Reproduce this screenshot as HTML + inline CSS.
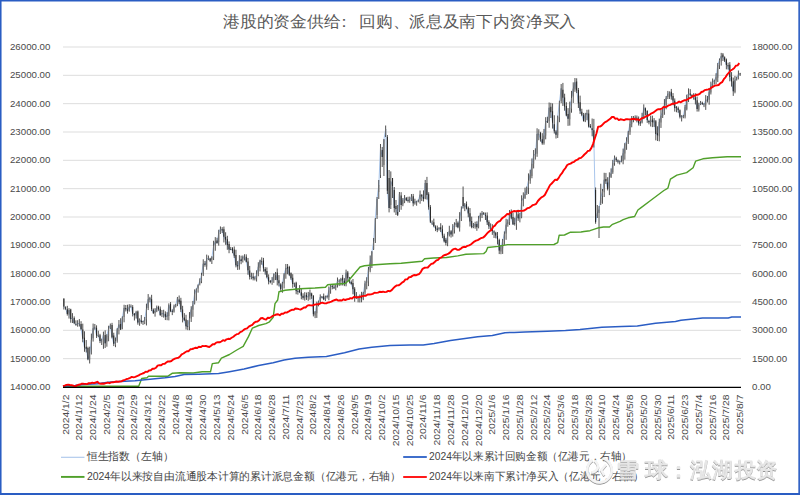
<!DOCTYPE html><html><head><meta charset="utf-8"><style>html,body{margin:0;padding:0;background:#fff;}body{width:800px;height:495px;overflow:hidden;position:relative;font-family:"Liberation Sans",sans-serif;}svg{position:absolute;left:0;top:0;}</style></head><body>
<svg width="800" height="495" viewBox="0 0 800 495" font-family="Liberation Sans, sans-serif">
<rect x="0" y="0" width="800" height="495" fill="#ffffff"/>
<line x1="63.0" y1="47.00" x2="741.0" y2="47.00" stroke="#d9d9d9" stroke-width="0.9"/>
<line x1="63.0" y1="75.33" x2="741.0" y2="75.33" stroke="#d9d9d9" stroke-width="0.9"/>
<line x1="63.0" y1="103.67" x2="741.0" y2="103.67" stroke="#d9d9d9" stroke-width="0.9"/>
<line x1="63.0" y1="132.00" x2="741.0" y2="132.00" stroke="#d9d9d9" stroke-width="0.9"/>
<line x1="63.0" y1="160.33" x2="741.0" y2="160.33" stroke="#d9d9d9" stroke-width="0.9"/>
<line x1="63.0" y1="188.67" x2="741.0" y2="188.67" stroke="#d9d9d9" stroke-width="0.9"/>
<line x1="63.0" y1="217.00" x2="741.0" y2="217.00" stroke="#d9d9d9" stroke-width="0.9"/>
<line x1="63.0" y1="245.33" x2="741.0" y2="245.33" stroke="#d9d9d9" stroke-width="0.9"/>
<line x1="63.0" y1="273.67" x2="741.0" y2="273.67" stroke="#d9d9d9" stroke-width="0.9"/>
<line x1="63.0" y1="302.00" x2="741.0" y2="302.00" stroke="#d9d9d9" stroke-width="0.9"/>
<line x1="63.0" y1="330.33" x2="741.0" y2="330.33" stroke="#d9d9d9" stroke-width="0.9"/>
<line x1="63.0" y1="358.67" x2="741.0" y2="358.67" stroke="#d9d9d9" stroke-width="0.9"/>
<text transform="translate(50.4,390.05) scale(0.97,0.95)" font-size="10" fill="#4a4a4a" text-anchor="end">14000.00</text>
<text transform="translate(752,390.05) scale(0.97,0.95)" font-size="10" fill="#4a4a4a">0.00</text>
<text transform="translate(50.4,361.72) scale(0.97,0.95)" font-size="10" fill="#4a4a4a" text-anchor="end">15000.00</text>
<text transform="translate(752,361.72) scale(0.97,0.95)" font-size="10" fill="#4a4a4a">1500.00</text>
<text transform="translate(50.4,333.38) scale(0.97,0.95)" font-size="10" fill="#4a4a4a" text-anchor="end">16000.00</text>
<text transform="translate(752,333.38) scale(0.97,0.95)" font-size="10" fill="#4a4a4a">3000.00</text>
<text transform="translate(50.4,305.05) scale(0.97,0.95)" font-size="10" fill="#4a4a4a" text-anchor="end">17000.00</text>
<text transform="translate(752,305.05) scale(0.97,0.95)" font-size="10" fill="#4a4a4a">4500.00</text>
<text transform="translate(50.4,276.72) scale(0.97,0.95)" font-size="10" fill="#4a4a4a" text-anchor="end">18000.00</text>
<text transform="translate(752,276.72) scale(0.97,0.95)" font-size="10" fill="#4a4a4a">6000.00</text>
<text transform="translate(50.4,248.38) scale(0.97,0.95)" font-size="10" fill="#4a4a4a" text-anchor="end">19000.00</text>
<text transform="translate(752,248.38) scale(0.97,0.95)" font-size="10" fill="#4a4a4a">7500.00</text>
<text transform="translate(50.4,220.05) scale(0.97,0.95)" font-size="10" fill="#4a4a4a" text-anchor="end">20000.00</text>
<text transform="translate(752,220.05) scale(0.97,0.95)" font-size="10" fill="#4a4a4a">9000.00</text>
<text transform="translate(50.4,191.72) scale(0.97,0.95)" font-size="10" fill="#4a4a4a" text-anchor="end">21000.00</text>
<text transform="translate(752,191.72) scale(0.97,0.95)" font-size="10" fill="#4a4a4a">10500.00</text>
<text transform="translate(50.4,163.38) scale(0.97,0.95)" font-size="10" fill="#4a4a4a" text-anchor="end">22000.00</text>
<text transform="translate(752,163.38) scale(0.97,0.95)" font-size="10" fill="#4a4a4a">12000.00</text>
<text transform="translate(50.4,135.05) scale(0.97,0.95)" font-size="10" fill="#4a4a4a" text-anchor="end">23000.00</text>
<text transform="translate(752,135.05) scale(0.97,0.95)" font-size="10" fill="#4a4a4a">13500.00</text>
<text transform="translate(50.4,106.72) scale(0.97,0.95)" font-size="10" fill="#4a4a4a" text-anchor="end">24000.00</text>
<text transform="translate(752,106.72) scale(0.97,0.95)" font-size="10" fill="#4a4a4a">15000.00</text>
<text transform="translate(50.4,78.38) scale(0.97,0.95)" font-size="10" fill="#4a4a4a" text-anchor="end">25000.00</text>
<text transform="translate(752,78.38) scale(0.97,0.95)" font-size="10" fill="#4a4a4a">16500.00</text>
<text transform="translate(50.4,50.05) scale(0.97,0.95)" font-size="10" fill="#4a4a4a" text-anchor="end">26000.00</text>
<text transform="translate(752,50.05) scale(0.97,0.95)" font-size="10" fill="#4a4a4a">18000.00</text>
<text transform="translate(68.56,394.6) rotate(-90) scale(0.975,0.86)" font-size="10.6" fill="#4a4a4a" text-anchor="end">2024/1/2</text>
<text transform="translate(82.33,394.6) rotate(-90) scale(0.975,0.86)" font-size="10.6" fill="#4a4a4a" text-anchor="end">2024/1/12</text>
<text transform="translate(96.09,394.6) rotate(-90) scale(0.975,0.86)" font-size="10.6" fill="#4a4a4a" text-anchor="end">2024/1/24</text>
<text transform="translate(109.86,394.6) rotate(-90) scale(0.975,0.86)" font-size="10.6" fill="#4a4a4a" text-anchor="end">2024/2/5</text>
<text transform="translate(123.63,394.6) rotate(-90) scale(0.975,0.86)" font-size="10.6" fill="#4a4a4a" text-anchor="end">2024/2/19</text>
<text transform="translate(137.39,394.6) rotate(-90) scale(0.975,0.86)" font-size="10.6" fill="#4a4a4a" text-anchor="end">2024/2/29</text>
<text transform="translate(151.16,394.6) rotate(-90) scale(0.975,0.86)" font-size="10.6" fill="#4a4a4a" text-anchor="end">2024/3/12</text>
<text transform="translate(164.93,394.6) rotate(-90) scale(0.975,0.86)" font-size="10.6" fill="#4a4a4a" text-anchor="end">2024/3/22</text>
<text transform="translate(178.69,394.6) rotate(-90) scale(0.975,0.86)" font-size="10.6" fill="#4a4a4a" text-anchor="end">2024/4/8</text>
<text transform="translate(192.46,394.6) rotate(-90) scale(0.975,0.86)" font-size="10.6" fill="#4a4a4a" text-anchor="end">2024/4/18</text>
<text transform="translate(206.23,394.6) rotate(-90) scale(0.975,0.86)" font-size="10.6" fill="#4a4a4a" text-anchor="end">2024/4/30</text>
<text transform="translate(219.99,394.6) rotate(-90) scale(0.975,0.86)" font-size="10.6" fill="#4a4a4a" text-anchor="end">2024/5/13</text>
<text transform="translate(233.76,394.6) rotate(-90) scale(0.975,0.86)" font-size="10.6" fill="#4a4a4a" text-anchor="end">2024/5/24</text>
<text transform="translate(247.52,394.6) rotate(-90) scale(0.975,0.86)" font-size="10.6" fill="#4a4a4a" text-anchor="end">2024/6/5</text>
<text transform="translate(261.29,394.6) rotate(-90) scale(0.975,0.86)" font-size="10.6" fill="#4a4a4a" text-anchor="end">2024/6/18</text>
<text transform="translate(275.06,394.6) rotate(-90) scale(0.975,0.86)" font-size="10.6" fill="#4a4a4a" text-anchor="end">2024/6/28</text>
<text transform="translate(288.82,394.6) rotate(-90) scale(0.975,0.86)" font-size="10.6" fill="#4a4a4a" text-anchor="end">2024/7/11</text>
<text transform="translate(302.59,394.6) rotate(-90) scale(0.975,0.86)" font-size="10.6" fill="#4a4a4a" text-anchor="end">2024/7/23</text>
<text transform="translate(316.36,394.6) rotate(-90) scale(0.975,0.86)" font-size="10.6" fill="#4a4a4a" text-anchor="end">2024/8/2</text>
<text transform="translate(330.12,394.6) rotate(-90) scale(0.975,0.86)" font-size="10.6" fill="#4a4a4a" text-anchor="end">2024/8/14</text>
<text transform="translate(343.89,394.6) rotate(-90) scale(0.975,0.86)" font-size="10.6" fill="#4a4a4a" text-anchor="end">2024/8/26</text>
<text transform="translate(357.66,394.6) rotate(-90) scale(0.975,0.86)" font-size="10.6" fill="#4a4a4a" text-anchor="end">2024/9/5</text>
<text transform="translate(371.42,394.6) rotate(-90) scale(0.975,0.86)" font-size="10.6" fill="#4a4a4a" text-anchor="end">2024/9/19</text>
<text transform="translate(385.19,394.6) rotate(-90) scale(0.975,0.86)" font-size="10.6" fill="#4a4a4a" text-anchor="end">2024/10/2</text>
<text transform="translate(398.96,394.6) rotate(-90) scale(0.975,0.86)" font-size="10.6" fill="#4a4a4a" text-anchor="end">2024/10/15</text>
<text transform="translate(412.72,394.6) rotate(-90) scale(0.975,0.86)" font-size="10.6" fill="#4a4a4a" text-anchor="end">2024/10/25</text>
<text transform="translate(426.49,394.6) rotate(-90) scale(0.975,0.86)" font-size="10.6" fill="#4a4a4a" text-anchor="end">2024/11/6</text>
<text transform="translate(440.26,394.6) rotate(-90) scale(0.975,0.86)" font-size="10.6" fill="#4a4a4a" text-anchor="end">2024/11/18</text>
<text transform="translate(454.02,394.6) rotate(-90) scale(0.975,0.86)" font-size="10.6" fill="#4a4a4a" text-anchor="end">2024/11/28</text>
<text transform="translate(467.79,394.6) rotate(-90) scale(0.975,0.86)" font-size="10.6" fill="#4a4a4a" text-anchor="end">2024/12/10</text>
<text transform="translate(481.56,394.6) rotate(-90) scale(0.975,0.86)" font-size="10.6" fill="#4a4a4a" text-anchor="end">2024/12/20</text>
<text transform="translate(495.32,394.6) rotate(-90) scale(0.975,0.86)" font-size="10.6" fill="#4a4a4a" text-anchor="end">2025/1/6</text>
<text transform="translate(509.09,394.6) rotate(-90) scale(0.975,0.86)" font-size="10.6" fill="#4a4a4a" text-anchor="end">2025/1/16</text>
<text transform="translate(522.85,394.6) rotate(-90) scale(0.975,0.86)" font-size="10.6" fill="#4a4a4a" text-anchor="end">2025/1/28</text>
<text transform="translate(536.62,394.6) rotate(-90) scale(0.975,0.86)" font-size="10.6" fill="#4a4a4a" text-anchor="end">2025/2/12</text>
<text transform="translate(550.39,394.6) rotate(-90) scale(0.975,0.86)" font-size="10.6" fill="#4a4a4a" text-anchor="end">2025/2/24</text>
<text transform="translate(564.15,394.6) rotate(-90) scale(0.975,0.86)" font-size="10.6" fill="#4a4a4a" text-anchor="end">2025/3/6</text>
<text transform="translate(577.92,394.6) rotate(-90) scale(0.975,0.86)" font-size="10.6" fill="#4a4a4a" text-anchor="end">2025/3/18</text>
<text transform="translate(591.69,394.6) rotate(-90) scale(0.975,0.86)" font-size="10.6" fill="#4a4a4a" text-anchor="end">2025/3/28</text>
<text transform="translate(605.45,394.6) rotate(-90) scale(0.975,0.86)" font-size="10.6" fill="#4a4a4a" text-anchor="end">2025/4/10</text>
<text transform="translate(619.22,394.6) rotate(-90) scale(0.975,0.86)" font-size="10.6" fill="#4a4a4a" text-anchor="end">2025/4/24</text>
<text transform="translate(632.99,394.6) rotate(-90) scale(0.975,0.86)" font-size="10.6" fill="#4a4a4a" text-anchor="end">2025/5/8</text>
<text transform="translate(646.75,394.6) rotate(-90) scale(0.975,0.86)" font-size="10.6" fill="#4a4a4a" text-anchor="end">2025/5/20</text>
<text transform="translate(660.52,394.6) rotate(-90) scale(0.975,0.86)" font-size="10.6" fill="#4a4a4a" text-anchor="end">2025/5/30</text>
<text transform="translate(674.29,394.6) rotate(-90) scale(0.975,0.86)" font-size="10.6" fill="#4a4a4a" text-anchor="end">2025/6/11</text>
<text transform="translate(688.05,394.6) rotate(-90) scale(0.975,0.86)" font-size="10.6" fill="#4a4a4a" text-anchor="end">2025/6/23</text>
<text transform="translate(701.82,394.6) rotate(-90) scale(0.975,0.86)" font-size="10.6" fill="#4a4a4a" text-anchor="end">2025/7/4</text>
<text transform="translate(715.59,394.6) rotate(-90) scale(0.975,0.86)" font-size="10.6" fill="#4a4a4a" text-anchor="end">2025/7/16</text>
<text transform="translate(729.35,394.6) rotate(-90) scale(0.975,0.86)" font-size="10.6" fill="#4a4a4a" text-anchor="end">2025/7/28</text>
<text transform="translate(743.12,394.6) rotate(-90) scale(0.975,0.86)" font-size="10.6" fill="#4a4a4a" text-anchor="end">2025/8/7</text>
<polyline points="63.9,306.4 65.6,308.6 67.3,313.9 69.0,310.1 70.7,319.1 72.5,317.8 74.2,323.1 75.9,324.6 77.6,323.8 79.3,323.2 81.1,328.9 82.8,338.8 84.5,347.5 86.2,348.6 88.0,359.4 89.7,353.6 91.4,339.9 93.1,328.2 94.8,327.6 96.6,335.4 98.3,335.3 100.0,341.0 101.7,340.6 103.4,334.7 105.2,343.4 106.9,335.6 108.6,328.4 110.3,325.5 112.0,337.3 113.8,343.7 115.5,340.9 117.2,329.6 118.9,324.6 120.6,329.4 122.4,317.3 124.1,307.9 125.8,309.2 127.5,310.7 129.3,306.7 131.0,306.7 132.7,313.9 134.4,315.2 136.1,312.3 137.9,322.6 139.6,319.5 141.3,321.9 143.0,321.4 144.7,319.5 146.5,308.4 148.2,299.1 149.9,298.1 151.6,308.9 153.3,313.0 155.1,311.0 156.8,307.2 158.5,308.9 160.2,314.9 161.9,313.5 163.7,313.7 165.4,316.8 167.1,316.2 168.8,305.2 170.6,310.9 172.3,311.5 174.0,306.5 175.7,304.7 177.4,298.3 179.2,302.3 180.9,309.5 182.6,317.5 184.3,319.9 186.0,326.3 187.8,326.3 189.5,318.1 191.2,309.5 192.9,305.1 194.6,293.8 196.4,289.3 198.1,285.2 199.8,281.3 201.5,274.9 203.2,263.7 205.0,264.9 206.7,259.0 208.4,258.1 210.1,260.6 211.9,257.3 213.6,245.6 215.3,241.5 217.0,243.1 218.7,232.9 220.5,228.6 222.2,230.5 223.9,236.7 225.6,239.6 227.3,245.0 229.1,249.5 230.8,249.1 232.5,250.7 234.2,255.7 235.9,265.4 237.7,266.2 239.4,260.0 241.1,261.0 242.8,257.0 244.5,257.0 246.3,261.8 248.0,270.2 249.7,276.6 251.4,276.2 253.1,278.2 254.9,278.3 256.6,273.9 258.3,266.8 260.0,260.6 261.8,262.0 263.5,268.4 265.2,271.4 266.9,276.9 268.6,281.3 270.4,281.9 272.1,280.7 273.8,274.3 275.5,274.1 277.2,280.1 279.0,283.3 280.7,289.0 282.4,283.3 284.1,274.3 285.8,268.3 287.6,268.4 289.3,274.8 291.0,278.3 292.7,284.0 294.4,283.6 296.2,291.1 297.9,291.4 299.6,292.1 301.3,295.8 303.1,297.8 304.8,295.5 306.5,296.8 308.2,296.6 309.9,292.8 311.7,296.0 313.4,314.3 315.1,312.2 316.8,304.4 318.5,301.6 320.3,296.9 322.0,296.9 323.7,299.3 325.4,297.0 327.1,296.9 328.9,290.5 330.6,286.3 332.3,286.5 334.0,288.2 335.7,285.2 337.5,280.9 339.2,281.3 340.9,279.2 342.6,280.3 344.4,284.2 346.1,272.7 347.8,278.3 349.5,280.6 351.2,284.0 353.0,289.1 354.7,297.1 356.4,298.1 358.1,297.6 359.8,296.8 361.6,298.1 363.3,292.9 365.0,283.5 366.7,281.3 368.4,269.5 370.2,262.5 371.9,252.0 373.6,241.7 375.3,219.0 377.0,199.0 378.8,185.0 380.5,148.0 382.2,157.0 383.9,139.5 385.7,129.0 387.4,190.7 389.1,208.0 390.8,181.5 392.5,186.0 394.3,208.0 396.0,209.0 397.7,214.7 399.4,194.0 401.1,205.0 402.9,200.0 404.6,197.6 406.3,200.4 408.0,200.2 409.7,200.1 411.5,196.5 413.2,203.4 414.9,201.8 416.6,201.6 418.3,200.5 420.1,194.7 421.8,196.4 423.5,199.0 425.2,183.0 427.0,195.1 428.7,207.3 430.4,221.8 432.1,223.2 433.8,225.9 435.6,228.7 437.3,229.7 439.0,228.2 440.7,229.2 442.4,235.4 444.2,241.3 445.9,243.0 447.6,235.7 449.3,231.1 451.0,234.4 452.8,228.1 454.5,224.6 456.2,223.3 457.9,227.2 459.6,218.7 461.4,209.5 463.1,206.0 464.8,204.6 466.5,208.4 468.3,213.4 470.0,221.4 471.7,227.1 473.4,225.9 475.1,224.1 476.9,227.1 478.6,218.4 480.3,214.7 482.0,213.5 483.7,214.1 485.5,215.7 487.2,222.3 488.9,226.3 490.6,227.5 492.3,231.0 494.1,232.5 495.8,235.6 497.5,239.2 499.2,250.4 500.9,247.1 502.7,240.4 504.4,234.0 506.1,224.8 507.8,221.7 509.6,213.1 511.3,217.8 513.0,224.3 514.7,223.4 516.4,215.2 518.2,218.3 519.9,217.6 521.6,200.8 523.3,198.1 525.0,194.0 526.8,187.9 528.5,180.6 530.2,174.5 531.9,163.8 533.6,155.3 535.4,154.3 537.1,133.9 538.8,134.1 540.5,139.0 542.2,143.2 544.0,135.5 545.7,121.1 547.4,122.2 549.1,107.8 550.9,112.3 552.6,122.7 554.3,131.2 556.0,134.7 557.7,117.1 559.5,101.4 561.2,88.4 562.9,97.8 564.6,106.5 566.3,115.4 568.1,118.8 569.8,107.5 571.5,97.9 573.2,88.7 574.9,82.3 576.7,90.5 578.4,103.5 580.1,110.7 581.8,114.6 583.5,121.0 585.3,114.0 587.0,113.2 588.7,126.5 590.4,127.2 592.1,129.9 593.9,140.8 595.6,222.0 597.3,213.4 599.0,209.5 600.8,197.7 602.5,191.0 604.2,179.7 605.9,181.2 607.6,189.0 609.4,177.2 611.1,173.3 612.8,163.1 614.5,157.4 616.2,160.0 618.0,161.6 619.7,161.6 621.4,161.2 623.1,153.2 624.8,144.1 626.6,140.9 628.3,131.8 630.0,123.7 631.7,118.2 633.4,118.6 635.2,118.2 636.9,118.3 638.6,123.2 640.3,123.2 642.1,117.2 643.8,107.7 645.5,111.3 647.2,119.9 648.9,122.3 650.7,120.3 652.4,122.2 654.1,120.6 655.8,134.1 657.5,135.4 659.3,122.0 661.0,115.6 662.7,111.6 664.4,104.7 666.1,98.0 667.9,93.9 669.6,92.1 671.3,96.4 673.0,100.6 674.7,108.0 676.5,107.4 678.2,110.0 679.9,116.8 681.6,117.0 683.4,115.7 685.1,107.1 686.8,95.6 688.5,93.5 690.2,94.7 692.0,96.4 693.7,96.9 695.4,100.1 697.1,108.9 698.8,104.9 700.6,102.8 702.3,104.0 704.0,104.7 705.7,99.9 707.4,100.3 709.2,92.0 710.9,86.2 712.6,82.2 714.3,80.4 716.0,77.2 717.8,64.9 719.5,59.7 721.2,56.0 722.9,57.2 724.7,60.6 726.4,65.0 728.1,66.2 729.8,77.0 731.5,81.6 733.3,91.3 735.0,80.3 736.7,78.3 738.4,74.2 740.1,74.3" fill="none" stroke="#a9c6ec" stroke-width="1"/>
<path d="M63.86 298.50V309.52M65.58 306.37V309.75M67.30 305.84V315.60M69.02 308.13V318.59M70.74 308.76V322.73M72.46 313.14V323.02M74.19 316.41V324.18M75.91 320.33V325.73M77.63 320.19V326.69M79.35 319.06V326.50M81.07 321.19V330.28M82.79 323.65V342.27M84.51 331.29V351.77M86.23 340.05V352.47M87.95 346.69V360.24M89.67 346.69V363.47M91.39 333.61V354.46M93.11 323.55V341.59M94.84 323.97V329.71M96.56 325.34V337.97M98.28 330.76V337.11M100.00 333.82V343.09M101.72 338.67V345.00M103.44 331.65V348.84M105.16 330.34V347.98M106.88 334.17V346.71M108.60 325.72V341.29M110.32 323.51V329.09M112.04 322.85V338.40M113.76 332.74V346.12M115.48 337.54V347.20M117.21 328.11V342.69M118.93 320.02V334.43M120.65 318.25V330.03M122.37 316.37V329.29M124.09 304.75V322.30M125.81 305.03V311.47M127.53 304.72V313.61M129.25 304.22V311.70M130.97 304.46V307.56M132.69 305.13V316.43M134.41 313.00V320.47M136.13 310.84V318.57M137.86 310.54V324.66M139.58 318.38V325.75M141.30 315.07V323.72M143.02 320.72V324.90M144.74 316.99V324.16M146.46 303.65V325.44M148.18 294.07V310.09M149.90 296.80V302.33M151.62 294.81V311.10M153.34 308.47V314.00M155.06 308.13V316.65M156.78 305.56V312.17M158.51 305.76V310.69M160.23 306.49V315.91M161.95 309.99V317.04M163.67 309.73V317.61M165.39 311.33V320.06M167.11 312.20V320.23M168.83 303.37V320.38M170.55 302.08V312.14M172.27 309.35V315.11M173.99 304.56V312.61M175.71 303.92V307.46M177.43 296.96V306.14M179.15 295.49V304.18M180.88 297.81V312.14M182.60 305.82V322.41M184.32 313.12V321.06M186.04 314.78V329.50M187.76 320.14V330.14M189.48 312.07V330.20M191.20 306.20V321.94M192.92 300.92V316.79M194.64 289.39V304.49M196.36 288.38V300.68M198.08 284.36V292.63M199.80 278.30V285.42M201.53 272.80V283.18M203.25 259.30V276.06M204.97 261.03V266.69M206.69 254.62V269.75M208.41 255.51V260.17M210.13 257.80V262.04M211.85 256.23V263.99M213.57 240.76V260.09M215.29 237.12V250.77M217.01 237.76V243.74M218.73 229.75V245.61M220.45 226.44V233.95M222.18 227.14V232.98M223.90 226.55V242.45M225.62 232.25V244.82M227.34 235.81V249.79M229.06 241.41V253.22M230.78 246.88V250.16M232.50 247.16V253.24M234.22 246.49V257.91M235.94 249.76V267.35M237.66 261.09V269.95M239.38 255.14V269.69M241.10 255.66V264.20M242.82 255.48V262.54M244.55 254.21V260.47M246.27 254.33V262.42M247.99 257.98V274.75M249.71 265.91V279.51M251.43 272.71V279.32M253.15 272.87V280.39M254.87 276.33V280.43M256.59 270.27V281.54M258.31 262.22V276.25M260.03 259.67V271.41M261.75 257.33V264.74M263.47 257.89V271.65M265.20 267.15V274.66M266.92 267.36V278.32M268.64 274.38V284.37M270.36 279.99V283.32M272.08 277.09V284.75M273.80 273.37V282.87M275.52 271.94V280.08M277.24 268.51V285.41M278.96 275.11V286.48M280.68 283.31V290.76M282.40 281.83V292.76M284.12 273.10V288.45M285.85 263.98V278.72M287.57 264.02V274.28M289.29 265.83V275.90M291.01 272.41V279.82M292.73 274.16V287.78M294.45 282.61V286.91M296.17 281.72V294.25M297.89 288.86V294.64M299.61 285.17V292.99M301.33 288.56V299.30M303.05 293.30V299.73M304.77 292.17V300.63M306.49 292.56V299.93M308.22 291.92V300.82M309.94 289.56V299.68M311.66 292.67V298.85M313.38 295.06V316.44M315.10 311.07V318.13M316.82 301.61V317.92M318.54 300.61V306.34M320.26 294.35V303.65M321.98 296.16V298.44M323.70 293.56V300.15M325.42 295.60V300.99M327.14 295.25V298.50M328.87 286.47V300.24M330.59 284.26V293.72M332.31 284.04V289.31M334.03 284.47V288.89M335.75 284.55V290.29M337.47 277.51V287.54M339.19 279.25V286.07M340.91 277.87V285.58M342.63 274.88V285.46M344.35 278.16V286.12M346.07 269.62V286.29M347.79 270.95V281.46M349.52 276.95V283.35M351.24 280.37V284.67M352.96 278.98V294.30M354.68 287.14V301.75M356.40 292.08V298.83M358.12 295.78V302.36M359.84 294.49V302.46M361.56 291.81V302.30M363.28 291.83V300.15M365.00 280.74V295.82M366.72 277.22V289.33M368.44 266.95V286.15M370.16 255.51V272.35M371.89 251.00V268.00M373.61 238.00V250.00M375.33 218.00V243.00M377.05 197.00V219.00M378.77 180.00V199.00M380.49 144.00V178.00M382.21 147.00V167.00M383.93 139.00V176.00M385.65 125.50V137.00M387.37 135.00V194.00M389.09 170.00V212.40M390.81 171.40V209.00M392.54 178.00V198.00M394.26 187.00V212.40M395.98 200.00V215.00M397.70 205.00V216.00M399.42 192.00V212.00M401.14 192.19V209.77M402.86 198.07V206.19M404.58 195.05V203.14M406.30 196.98V201.13M408.02 196.72V202.57M409.74 196.59V202.81M411.46 194.05V200.91M413.19 193.93V206.27M414.91 198.73V204.65M416.63 200.73V205.72M418.35 199.52V202.33M420.07 190.50V203.72M421.79 193.97V201.05M423.51 190.40V201.51M425.23 179.95V199.25M426.95 176.89V199.58M428.67 192.23V209.68M430.39 205.07V223.05M432.11 220.47V224.83M433.84 218.61V227.28M435.56 225.29V231.10M437.28 225.58V232.15M439.00 227.05V230.53M440.72 223.19V232.10M442.44 225.33V238.11M444.16 233.66V242.46M445.88 237.90V245.40M447.60 231.98V246.19M449.32 225.78V236.48M451.04 230.13V237.55M452.76 224.10V236.62M454.48 222.30V233.52M456.21 218.95V227.18M457.93 221.44V228.22M459.65 212.14V231.59M461.37 206.34V221.03M463.09 186.50V208.50M464.81 203.05V211.15M466.53 201.51V209.25M468.25 206.53V217.26M469.97 208.09V226.53M471.69 216.61V228.31M473.41 222.96V228.19M475.13 221.71V228.66M476.86 221.30V230.84M478.58 215.83V228.36M480.30 212.73V221.57M482.02 211.04V218.03M483.74 212.03V214.92M485.46 212.55V220.00M487.18 212.37V225.01M488.90 220.28V229.05M490.62 223.37V231.03M492.34 224.19V234.84M494.06 230.33V238.01M495.78 231.81V238.33M497.51 232.02V244.41M499.23 238.70V254.07M500.95 245.01V254.22M502.67 238.99V253.93M504.39 231.40V244.97M506.11 218.73V239.80M507.83 219.39V226.73M509.55 210.06V225.02M511.27 209.42V219.14M512.99 212.56V224.93M514.71 217.70V225.58M516.43 211.92V229.83M518.15 209.72V220.86M519.88 212.85V222.38M521.60 195.29V218.29M523.32 192.37V206.38M525.04 187.67V199.00M526.76 186.58V194.84M528.48 173.39V194.03M530.20 169.68V183.78M531.92 158.47V178.26M533.64 150.02V168.45M535.36 148.32V159.60M537.08 128.27V156.80M538.80 129.28V140.22M540.53 131.89V141.65M542.25 133.16V144.74M543.97 128.96V144.71M545.69 117.17V139.32M547.41 116.74V122.98M549.13 102.48V127.76M550.85 102.85V117.99M552.57 103.38V128.57M554.29 115.25V133.53M556.01 130.18V138.53M557.73 115.64V137.98M559.45 100.73V122.20M561.18 84.04V103.18M562.90 82.88V105.94M564.62 93.71V110.71M566.34 102.20V116.19M568.06 108.10V125.86M569.78 101.65V125.63M571.50 90.88V112.71M573.22 82.33V102.94M574.94 78.02V91.80M576.66 78.29V93.10M578.38 87.95V107.97M580.10 95.63V113.94M581.82 108.78V116.14M583.55 112.93V121.63M585.27 112.83V122.12M586.99 109.80V120.24M588.71 109.61V127.56M590.43 124.09V127.87M592.15 118.49V136.29M593.87 118.86V147.50M595.59 187.50V223.75M597.31 205.00V218.00M599.03 206.00V238.00M600.75 183.75V205.00M602.47 189.00V203.75M604.20 172.79V197.03M605.92 172.92V183.97M607.64 177.21V190.44M609.36 172.33V195.12M611.08 168.38V178.00M612.80 159.88V173.85M614.52 155.51V165.73M616.24 156.79V161.89M617.96 159.51V163.51M619.68 160.50V164.46M621.40 155.62V162.35M623.12 148.58V164.25M624.85 142.88V159.69M626.57 137.29V149.83M628.29 130.83V143.92M630.01 118.81V134.86M631.73 116.00V127.27M633.45 115.99V122.31M635.17 115.37V120.36M636.89 115.51V122.39M638.61 116.48V125.53M640.33 120.97V125.95M642.05 112.80V123.41M643.77 104.37V119.17M645.49 107.55V115.21M647.22 110.25V122.84M648.94 119.77V124.35M650.66 115.63V126.47M652.38 115.68V127.10M654.10 118.05V126.93M655.82 120.06V140.39M657.54 126.29V141.02M659.26 118.61V141.32M660.98 109.96V127.93M662.70 108.16V117.97M664.42 99.06V114.78M666.14 96.07V109.27M667.87 90.95V99.09M669.59 91.36V98.96M671.31 88.92V99.70M673.03 93.08V105.22M674.75 98.45V111.65M676.47 106.02V112.26M678.19 106.58V112.77M679.91 109.43V118.43M681.63 115.13V121.46M683.35 114.92V118.26M685.07 104.87V118.40M686.79 94.64V110.38M688.52 88.36V102.08M690.24 89.12V96.52M691.96 94.13V97.72M693.68 93.23V99.64M695.40 93.31V104.44M697.12 96.56V111.58M698.84 102.70V111.55M700.56 100.94V105.10M702.28 101.65V104.96M704.00 103.03V107.11M705.72 95.14V109.90M707.44 95.98V102.55M709.16 88.09V104.73M710.89 81.67V94.47M712.61 78.48V88.11M714.33 79.77V84.62M716.05 73.22V84.06M717.77 62.93V82.02M719.49 58.48V69.03M721.21 52.88V65.60M722.93 53.06V61.00M724.65 56.39V62.00M726.37 58.51V69.34M728.09 62.66V69.52M729.81 62.09V81.30M731.54 72.11V86.58M733.26 77.60V95.89M734.98 75.91V93.30M736.70 76.63V80.55M738.42 70.51V79.38M740.14 72.85V75.87" stroke="#333333" stroke-width="0.85" fill="none"/>
<path d="M68.52 310.12h1.0v4.44h-1.0zM71.96 317.84h1.0v1.65h-1.0zM77.13 323.83h1.0v0.60h-1.0zM78.85 323.19h1.0v0.71h-1.0zM89.17 353.64h1.0v5.80h-1.0zM90.89 339.86h1.0v13.99h-1.0zM92.61 328.16h1.0v10.05h-1.0zM94.34 327.56h1.0v0.92h-1.0zM97.78 335.30h1.0v0.60h-1.0zM101.22 340.63h1.0v0.97h-1.0zM102.94 334.68h1.0v7.73h-1.0zM106.38 335.59h1.0v5.87h-1.0zM108.10 328.38h1.0v7.55h-1.0zM109.82 325.47h1.0v2.85h-1.0zM114.98 340.95h1.0v3.96h-1.0zM116.71 329.58h1.0v11.22h-1.0zM118.43 324.56h1.0v3.76h-1.0zM121.87 317.27h1.0v11.46h-1.0zM123.59 307.92h1.0v9.14h-1.0zM128.75 306.70h1.0v4.19h-1.0zM130.47 306.70h1.0v0.60h-1.0zM135.63 312.33h1.0v3.10h-1.0zM139.08 319.49h1.0v3.69h-1.0zM144.24 319.50h1.0v0.88h-1.0zM145.96 308.43h1.0v11.16h-1.0zM147.68 299.14h1.0v8.98h-1.0zM149.40 298.06h1.0v1.90h-1.0zM154.56 310.97h1.0v2.08h-1.0zM156.28 307.24h1.0v4.06h-1.0zM161.45 313.51h1.0v0.76h-1.0zM163.17 313.74h1.0v0.60h-1.0zM168.33 305.23h1.0v10.79h-1.0zM173.49 306.52h1.0v5.19h-1.0zM175.21 304.66h1.0v1.95h-1.0zM176.93 298.26h1.0v5.39h-1.0zM188.98 318.14h1.0v8.71h-1.0zM190.70 309.49h1.0v9.12h-1.0zM192.42 305.08h1.0v4.61h-1.0zM194.14 293.84h1.0v9.38h-1.0zM195.86 289.30h1.0v4.86h-1.0zM197.58 285.16h1.0v3.37h-1.0zM199.30 281.27h1.0v2.25h-1.0zM201.03 274.94h1.0v6.51h-1.0zM202.75 263.67h1.0v10.58h-1.0zM206.19 259.03h1.0v7.35h-1.0zM207.91 258.12h1.0v0.73h-1.0zM211.35 257.32h1.0v2.50h-1.0zM213.07 245.64h1.0v12.11h-1.0zM214.79 241.55h1.0v3.78h-1.0zM218.23 232.90h1.0v9.18h-1.0zM219.95 228.57h1.0v4.64h-1.0zM238.88 259.95h1.0v5.92h-1.0zM242.32 257.02h1.0v2.59h-1.0zM244.05 257.02h1.0v0.60h-1.0zM250.93 276.25h1.0v0.60h-1.0zM254.37 278.30h1.0v0.60h-1.0zM256.09 273.92h1.0v4.02h-1.0zM257.81 266.81h1.0v7.67h-1.0zM259.53 260.60h1.0v7.19h-1.0zM271.58 280.70h1.0v0.60h-1.0zM273.30 274.25h1.0v5.80h-1.0zM275.02 274.12h1.0v1.15h-1.0zM281.90 283.31h1.0v5.87h-1.0zM283.62 274.29h1.0v9.31h-1.0zM285.35 268.30h1.0v5.87h-1.0zM293.95 283.57h1.0v1.04h-1.0zM304.27 295.49h1.0v2.67h-1.0zM307.72 296.65h1.0v0.60h-1.0zM309.44 292.85h1.0v3.60h-1.0zM314.60 312.24h1.0v3.22h-1.0zM316.32 304.38h1.0v8.85h-1.0zM318.04 301.59h1.0v2.70h-1.0zM319.76 296.90h1.0v4.72h-1.0zM324.92 297.01h1.0v2.54h-1.0zM328.37 290.54h1.0v6.65h-1.0zM330.09 286.29h1.0v3.98h-1.0zM335.25 285.23h1.0v2.26h-1.0zM336.97 280.91h1.0v2.93h-1.0zM338.69 281.26h1.0v0.60h-1.0zM340.41 279.16h1.0v2.16h-1.0zM345.57 272.69h1.0v11.49h-1.0zM357.62 297.56h1.0v0.87h-1.0zM359.34 296.78h1.0v1.55h-1.0zM362.78 292.93h1.0v6.01h-1.0zM364.50 283.48h1.0v8.96h-1.0zM366.22 281.34h1.0v1.53h-1.0zM367.94 269.55h1.0v11.85h-1.0zM369.66 262.49h1.0v8.10h-1.0zM371.39 252.00h1.0v13.00h-1.0zM373.11 241.70h1.0v7.30h-1.0zM374.83 219.00h1.0v22.00h-1.0zM376.55 199.00h1.0v16.00h-1.0zM378.27 185.00h1.0v7.00h-1.0zM379.99 148.00h1.0v27.00h-1.0zM383.43 139.50h1.0v25.50h-1.0zM385.15 129.00h1.0v6.00h-1.0zM390.31 181.50h1.0v23.50h-1.0zM398.92 194.00h1.0v16.00h-1.0zM402.36 200.04h1.0v4.09h-1.0zM404.08 197.65h1.0v3.12h-1.0zM409.24 200.15h1.0v0.60h-1.0zM410.96 196.50h1.0v3.66h-1.0zM414.41 201.83h1.0v1.32h-1.0zM416.13 201.60h1.0v0.60h-1.0zM417.85 200.47h1.0v1.01h-1.0zM419.57 194.72h1.0v4.63h-1.0zM424.73 183.01h1.0v15.62h-1.0zM431.61 223.16h1.0v0.60h-1.0zM438.50 228.24h1.0v0.62h-1.0zM447.10 235.70h1.0v7.76h-1.0zM448.82 231.12h1.0v4.19h-1.0zM452.26 228.12h1.0v5.54h-1.0zM453.98 224.57h1.0v5.59h-1.0zM455.71 223.30h1.0v1.92h-1.0zM459.15 218.72h1.0v8.85h-1.0zM460.87 209.48h1.0v9.43h-1.0zM464.31 204.60h1.0v2.16h-1.0zM472.91 225.93h1.0v1.28h-1.0zM474.63 224.13h1.0v2.80h-1.0zM478.08 218.38h1.0v8.26h-1.0zM479.80 214.75h1.0v3.87h-1.0zM481.52 213.54h1.0v1.83h-1.0zM490.12 227.50h1.0v0.60h-1.0zM500.45 247.13h1.0v4.34h-1.0zM502.17 240.39h1.0v7.95h-1.0zM503.89 234.03h1.0v6.78h-1.0zM505.61 224.81h1.0v8.63h-1.0zM507.33 221.71h1.0v2.39h-1.0zM509.05 213.09h1.0v8.92h-1.0zM515.93 215.25h1.0v8.82h-1.0zM519.38 217.65h1.0v0.60h-1.0zM521.10 200.82h1.0v15.89h-1.0zM522.82 198.10h1.0v2.68h-1.0zM524.54 193.96h1.0v4.14h-1.0zM526.26 187.87h1.0v5.21h-1.0zM527.98 180.57h1.0v7.10h-1.0zM529.70 174.50h1.0v6.18h-1.0zM531.42 163.75h1.0v12.25h-1.0zM533.14 155.28h1.0v8.46h-1.0zM534.86 154.25h1.0v1.14h-1.0zM536.58 133.95h1.0v19.68h-1.0zM538.30 134.13h1.0v0.60h-1.0zM543.47 135.45h1.0v7.83h-1.0zM545.19 121.13h1.0v14.37h-1.0zM548.63 107.83h1.0v13.50h-1.0zM557.23 117.09h1.0v18.19h-1.0zM558.95 101.36h1.0v16.19h-1.0zM560.68 88.44h1.0v12.52h-1.0zM569.28 107.51h1.0v11.65h-1.0zM571.00 97.91h1.0v10.82h-1.0zM572.72 88.67h1.0v7.95h-1.0zM574.44 82.32h1.0v7.28h-1.0zM584.77 113.98h1.0v7.51h-1.0zM586.49 113.17h1.0v1.49h-1.0zM596.81 213.40h1.0v2.60h-1.0zM598.53 209.50h1.0v3.50h-1.0zM600.25 197.70h1.0v5.30h-1.0zM601.97 191.00h1.0v5.00h-1.0zM603.70 179.67h1.0v12.49h-1.0zM608.86 177.17h1.0v11.47h-1.0zM610.58 173.25h1.0v3.87h-1.0zM612.30 163.11h1.0v9.25h-1.0zM614.02 157.40h1.0v5.63h-1.0zM619.18 161.56h1.0v0.64h-1.0zM620.90 161.25h1.0v0.60h-1.0zM622.62 153.16h1.0v7.78h-1.0zM624.35 144.10h1.0v9.52h-1.0zM626.07 140.86h1.0v2.67h-1.0zM627.79 131.78h1.0v10.15h-1.0zM629.51 123.70h1.0v7.94h-1.0zM631.23 118.22h1.0v6.09h-1.0zM632.95 118.58h1.0v0.60h-1.0zM641.55 117.17h1.0v5.43h-1.0zM643.27 107.74h1.0v10.48h-1.0zM650.16 120.31h1.0v1.68h-1.0zM653.60 120.56h1.0v2.04h-1.0zM658.76 121.96h1.0v14.41h-1.0zM660.48 115.64h1.0v6.75h-1.0zM662.20 111.63h1.0v4.00h-1.0zM663.92 104.67h1.0v7.35h-1.0zM665.64 98.02h1.0v7.38h-1.0zM667.37 93.91h1.0v3.09h-1.0zM669.09 92.14h1.0v2.20h-1.0zM681.13 117.04h1.0v1.12h-1.0zM682.85 115.72h1.0v1.23h-1.0zM684.57 107.06h1.0v9.48h-1.0zM686.29 95.58h1.0v13.63h-1.0zM688.02 93.52h1.0v3.37h-1.0zM693.18 96.92h1.0v0.60h-1.0zM698.34 104.88h1.0v4.90h-1.0zM700.06 102.79h1.0v1.55h-1.0zM703.50 104.70h1.0v0.60h-1.0zM705.22 99.92h1.0v5.67h-1.0zM708.66 91.95h1.0v7.77h-1.0zM710.39 86.22h1.0v6.17h-1.0zM712.11 82.22h1.0v4.07h-1.0zM713.83 80.40h1.0v1.91h-1.0zM715.55 77.21h1.0v3.26h-1.0zM717.27 64.94h1.0v12.80h-1.0zM718.99 59.68h1.0v5.75h-1.0zM720.71 56.04h1.0v5.38h-1.0zM734.48 80.34h1.0v11.56h-1.0zM736.20 78.33h1.0v1.05h-1.0zM737.92 74.23h1.0v4.44h-1.0z" fill="#707070" stroke="none"/>
<path d="M63.36 298.50h1.0v7.88h-1.0zM65.08 307.40h1.0v1.15h-1.0zM66.80 309.16h1.0v4.75h-1.0zM70.24 309.48h1.0v9.58h-1.0zM73.69 317.99h1.0v5.07h-1.0zM75.41 324.23h1.0v0.60h-1.0zM80.57 323.91h1.0v5.03h-1.0zM82.29 329.50h1.0v9.34h-1.0zM84.01 337.84h1.0v9.71h-1.0zM85.73 346.68h1.0v1.97h-1.0zM87.45 348.07h1.0v11.30h-1.0zM96.06 327.82h1.0v7.62h-1.0zM99.50 335.29h1.0v5.67h-1.0zM104.66 335.05h1.0v8.31h-1.0zM111.54 325.00h1.0v12.27h-1.0zM113.26 335.52h1.0v8.13h-1.0zM120.15 324.04h1.0v5.35h-1.0zM125.31 308.05h1.0v1.19h-1.0zM127.03 309.50h1.0v1.22h-1.0zM132.19 306.96h1.0v6.91h-1.0zM133.91 313.78h1.0v1.41h-1.0zM137.36 311.53h1.0v11.09h-1.0zM140.80 320.44h1.0v1.48h-1.0zM142.52 321.41h1.0v0.60h-1.0zM151.12 299.23h1.0v9.70h-1.0zM152.84 309.65h1.0v3.39h-1.0zM158.01 307.16h1.0v1.77h-1.0zM159.73 308.70h1.0v6.19h-1.0zM164.89 313.80h1.0v2.98h-1.0zM166.61 315.74h1.0v0.60h-1.0zM170.05 304.00h1.0v6.91h-1.0zM171.77 311.35h1.0v0.60h-1.0zM178.65 299.50h1.0v2.80h-1.0zM180.38 300.79h1.0v8.74h-1.0zM182.10 309.47h1.0v8.03h-1.0zM183.82 317.61h1.0v2.34h-1.0zM185.54 319.47h1.0v6.87h-1.0zM187.26 326.24h1.0v0.60h-1.0zM204.47 263.38h1.0v1.48h-1.0zM209.63 258.58h1.0v2.05h-1.0zM216.51 240.52h1.0v2.57h-1.0zM221.68 229.30h1.0v1.16h-1.0zM223.40 229.23h1.0v7.50h-1.0zM225.12 236.91h1.0v2.72h-1.0zM226.84 239.21h1.0v5.81h-1.0zM228.56 243.90h1.0v5.62h-1.0zM230.28 249.10h1.0v0.60h-1.0zM232.00 248.24h1.0v2.46h-1.0zM233.72 249.52h1.0v6.18h-1.0zM235.44 255.05h1.0v10.32h-1.0zM237.16 265.30h1.0v0.87h-1.0zM240.60 259.37h1.0v1.66h-1.0zM245.77 256.67h1.0v5.14h-1.0zM247.49 261.42h1.0v8.81h-1.0zM249.21 270.55h1.0v6.10h-1.0zM252.65 276.50h1.0v1.70h-1.0zM261.25 261.40h1.0v0.64h-1.0zM262.97 260.60h1.0v7.83h-1.0zM264.70 268.99h1.0v2.39h-1.0zM266.42 271.00h1.0v5.93h-1.0zM268.14 277.31h1.0v3.95h-1.0zM269.86 281.34h1.0v0.60h-1.0zM276.74 272.39h1.0v7.71h-1.0zM278.46 280.26h1.0v3.04h-1.0zM280.18 284.53h1.0v4.46h-1.0zM287.07 266.83h1.0v1.61h-1.0zM288.79 266.97h1.0v7.79h-1.0zM290.51 273.29h1.0v5.03h-1.0zM292.23 277.70h1.0v6.28h-1.0zM295.67 282.82h1.0v8.29h-1.0zM297.39 290.90h1.0v0.60h-1.0zM299.11 289.36h1.0v2.76h-1.0zM300.83 292.17h1.0v3.67h-1.0zM302.55 295.73h1.0v2.05h-1.0zM305.99 295.00h1.0v1.76h-1.0zM311.16 293.54h1.0v2.45h-1.0zM312.88 296.08h1.0v18.20h-1.0zM321.48 296.82h1.0v0.60h-1.0zM323.20 296.14h1.0v3.21h-1.0zM326.64 296.17h1.0v0.70h-1.0zM331.81 286.28h1.0v0.60h-1.0zM333.53 287.41h1.0v0.74h-1.0zM342.13 277.48h1.0v2.77h-1.0zM343.85 280.81h1.0v3.39h-1.0zM347.29 272.48h1.0v5.84h-1.0zM349.02 277.97h1.0v2.63h-1.0zM350.74 281.93h1.0v2.05h-1.0zM352.46 282.98h1.0v6.17h-1.0zM354.18 288.80h1.0v8.26h-1.0zM355.90 296.81h1.0v1.28h-1.0zM361.06 297.34h1.0v0.81h-1.0zM381.71 150.00h1.0v7.00h-1.0zM386.87 137.00h1.0v53.70h-1.0zM388.59 178.00h1.0v30.00h-1.0zM392.04 178.00h1.0v8.00h-1.0zM393.76 190.00h1.0v18.00h-1.0zM395.48 206.00h1.0v3.00h-1.0zM397.20 212.00h1.0v2.70h-1.0zM400.64 195.38h1.0v9.61h-1.0zM405.80 198.04h1.0v2.31h-1.0zM407.52 200.05h1.0v0.60h-1.0zM412.69 196.16h1.0v7.20h-1.0zM421.29 195.00h1.0v1.43h-1.0zM423.01 196.66h1.0v2.31h-1.0zM426.45 183.06h1.0v12.04h-1.0zM428.17 194.14h1.0v13.12h-1.0zM429.89 207.09h1.0v14.74h-1.0zM433.34 222.17h1.0v3.71h-1.0zM435.06 226.39h1.0v2.35h-1.0zM436.78 228.41h1.0v1.25h-1.0zM440.22 227.24h1.0v1.92h-1.0zM441.94 229.20h1.0v6.23h-1.0zM443.66 235.76h1.0v5.54h-1.0zM445.38 239.82h1.0v3.16h-1.0zM450.54 231.21h1.0v3.17h-1.0zM457.43 222.70h1.0v4.47h-1.0zM462.59 197.00h1.0v9.00h-1.0zM466.03 204.02h1.0v4.40h-1.0zM467.75 207.81h1.0v5.62h-1.0zM469.47 213.17h1.0v8.22h-1.0zM471.19 221.03h1.0v6.11h-1.0zM476.36 224.05h1.0v3.08h-1.0zM483.24 213.19h1.0v0.91h-1.0zM484.96 214.93h1.0v0.78h-1.0zM486.68 215.38h1.0v6.94h-1.0zM488.40 222.03h1.0v4.30h-1.0zM491.84 227.86h1.0v3.17h-1.0zM493.56 231.43h1.0v1.09h-1.0zM495.28 232.85h1.0v2.71h-1.0zM497.01 235.92h1.0v3.33h-1.0zM498.73 239.89h1.0v10.52h-1.0zM510.77 212.80h1.0v5.02h-1.0zM512.49 217.06h1.0v7.26h-1.0zM514.21 223.21h1.0v0.60h-1.0zM517.65 214.31h1.0v3.95h-1.0zM540.03 132.99h1.0v5.97h-1.0zM541.75 139.37h1.0v3.79h-1.0zM546.91 121.43h1.0v0.76h-1.0zM550.35 106.75h1.0v5.59h-1.0zM552.07 111.28h1.0v11.41h-1.0zM553.79 124.33h1.0v6.88h-1.0zM555.51 131.42h1.0v3.24h-1.0zM562.40 89.67h1.0v8.09h-1.0zM564.12 97.55h1.0v8.93h-1.0zM565.84 105.96h1.0v9.42h-1.0zM567.56 114.07h1.0v4.71h-1.0zM576.16 81.47h1.0v9.05h-1.0zM577.88 89.95h1.0v13.50h-1.0zM579.60 102.21h1.0v8.53h-1.0zM581.32 111.64h1.0v3.00h-1.0zM583.05 115.26h1.0v5.74h-1.0zM588.21 113.53h1.0v13.00h-1.0zM589.93 125.91h1.0v1.30h-1.0zM591.65 128.23h1.0v1.69h-1.0zM593.37 130.31h1.0v10.49h-1.0zM595.09 190.00h1.0v32.00h-1.0zM605.42 178.99h1.0v2.20h-1.0zM607.14 182.62h1.0v6.35h-1.0zM615.74 158.49h1.0v1.50h-1.0zM617.46 160.50h1.0v1.09h-1.0zM634.67 117.73h1.0v0.60h-1.0zM636.39 117.85h1.0v0.60h-1.0zM638.11 118.49h1.0v4.75h-1.0zM639.83 122.40h1.0v0.85h-1.0zM644.99 108.58h1.0v2.70h-1.0zM646.72 111.03h1.0v8.89h-1.0zM648.44 121.06h1.0v1.26h-1.0zM651.88 119.42h1.0v2.79h-1.0zM655.32 121.37h1.0v12.71h-1.0zM657.04 133.13h1.0v2.23h-1.0zM670.81 91.81h1.0v4.62h-1.0zM672.53 95.93h1.0v4.67h-1.0zM674.25 100.72h1.0v7.32h-1.0zM675.97 107.36h1.0v0.60h-1.0zM677.69 108.31h1.0v1.67h-1.0zM679.41 110.25h1.0v6.51h-1.0zM689.74 93.48h1.0v1.21h-1.0zM691.46 95.00h1.0v1.38h-1.0zM694.90 97.60h1.0v2.55h-1.0zM696.62 100.19h1.0v8.72h-1.0zM701.78 102.73h1.0v1.31h-1.0zM706.94 99.67h1.0v0.60h-1.0zM722.43 54.42h1.0v2.79h-1.0zM724.15 57.35h1.0v3.22h-1.0zM725.87 59.58h1.0v5.45h-1.0zM727.59 65.25h1.0v0.95h-1.0zM729.31 64.69h1.0v12.32h-1.0zM731.04 76.80h1.0v4.76h-1.0zM732.76 81.31h1.0v9.99h-1.0zM739.64 73.56h1.0v0.69h-1.0z" fill="#262626" stroke="none"/>
<polyline points="63.0,386.2 138.7,386.2 141.7,378.5 147.0,377.7 148.5,376.2 168.0,376.2 172.5,373.2 180.0,372.8 193.2,373.0 202.3,371.8 210.5,371.8 212.3,363.6 218.6,362.7 221.4,358.2 229.5,354.5 236.8,350.0 243.2,346.4 248.6,336.4 252.3,328.2 258.6,325.5 265.9,323.6 269.5,321.8 273.2,317.3 275.0,303.6 277.7,300.0 279.0,291.7 285.0,290.2 300.0,288.7 315.0,288.0 325.5,287.2 327.7,284.7 333.0,284.2 345.0,283.5 348.0,281.2 360.0,267.0 364.5,265.8 375.0,264.7 390.0,263.7 401.2,263.3 422.2,261.2 424.6,258.8 433.5,258.0 446.5,257.5 457.8,255.9 465.9,254.3 483.7,253.6 486.1,251.5 487.7,247.5 498.2,246.4 507.5,244.6 554.0,244.5 557.7,242.7 559.2,235.2 564.5,235.0 570.5,232.2 581.0,232.0 584.0,231.5 590.0,230.7 594.5,229.2 599.0,227.7 603.5,227.0 609.5,227.0 612.5,224.3 620.0,221.4 623.2,219.7 628.1,217.8 634.6,216.5 637.9,210.0 641.1,207.6 650.9,200.2 663.9,190.5 667.9,188.1 670.4,179.1 676.9,175.1 686.6,172.6 693.1,167.7 695.6,161.2 702.9,158.8 712.6,157.7 727.2,156.7 741.0,156.7" fill="none" stroke="#50a02a" stroke-width="1.4" stroke-linejoin="round"/>
<polyline points="63.0,386.2 63.8,386.0 75.0,385.6 82.5,384.5 97.5,383.7 108.0,382.2 120.0,381.5 135.0,380.7 150.0,379.2 165.0,377.7 175.0,376.4 184.1,374.5 198.6,374.2 218.6,373.6 229.5,371.8 244.1,369.1 258.6,365.5 273.2,362.7 284.1,360.0 295.0,358.2 308.2,357.3 326.4,356.4 344.5,352.7 359.1,349.1 371.8,347.3 390.0,345.5 410.0,345.0 423.2,345.0 434.1,343.6 450.5,340.4 463.2,338.7 477.7,336.7 492.3,335.5 505.0,332.7 514.1,332.4 525.0,332.0 547.3,331.3 565.5,330.5 580.0,329.5 601.8,327.3 621.8,326.4 637.3,326.0 655.5,323.2 675.5,321.5 680.9,320.2 702.7,318.0 728.2,317.9 731.8,317.1 741.0,317.1" fill="none" stroke="#2b5dc4" stroke-width="1.5" stroke-linejoin="round"/>
<polyline points="63.0,386.2 64.7,385.6 66.4,384.9 68.2,384.6 69.9,385.0 71.6,385.2 73.3,385.7 75.0,386.6 76.8,385.4 78.5,384.8 80.2,384.5 81.9,383.6 83.6,383.8 85.4,383.9 87.1,384.1 88.8,383.1 90.5,383.3 92.3,382.6 94.0,383.1 95.7,382.5 97.4,381.8 99.1,383.4 100.9,383.7 102.6,383.5 104.3,383.7 106.0,383.1 107.7,382.7 109.5,383.2 111.2,382.4 112.9,382.2 114.6,382.0 116.3,381.5 118.1,381.8 119.8,381.5 121.5,381.4 123.2,380.3 124.9,379.8 126.7,379.0 128.4,378.6 130.1,377.8 131.8,376.9 133.6,377.4 135.3,376.8 137.0,376.1 138.7,375.4 140.4,374.3 142.2,373.7 143.9,373.0 145.6,371.8 147.3,371.9 149.0,370.5 150.8,370.3 152.5,368.8 154.2,368.8 155.9,367.8 157.6,365.7 159.4,365.1 161.1,365.2 162.8,363.9 164.5,363.9 166.2,362.5 168.0,361.4 169.7,361.5 171.4,361.0 173.1,359.6 174.9,358.7 176.6,358.1 178.3,357.8 180.0,356.4 181.7,354.3 183.5,353.5 185.2,352.2 186.9,351.2 188.6,351.2 190.3,349.3 192.1,349.0 193.8,348.5 195.5,347.7 197.2,348.0 198.9,346.8 200.7,347.1 202.4,346.0 204.1,346.1 205.8,345.9 207.5,346.5 209.3,347.0 211.0,345.8 212.7,344.2 214.4,344.3 216.2,342.6 217.9,342.2 219.6,342.3 221.3,341.5 223.0,340.2 224.8,340.9 226.5,339.3 228.2,338.8 229.9,339.0 231.6,337.8 233.4,336.7 235.1,335.3 236.8,334.2 238.5,333.8 240.2,332.1 242.0,331.4 243.7,329.9 245.4,328.8 247.1,328.3 248.8,326.6 250.6,325.6 252.3,324.9 254.0,322.9 255.7,321.7 257.5,321.5 259.2,320.2 260.9,318.2 262.6,318.0 264.3,319.1 266.1,319.6 267.8,317.7 269.5,318.0 271.2,317.0 272.9,315.8 274.7,315.2 276.4,314.5 278.1,314.2 279.8,315.2 281.5,313.7 283.3,313.7 285.0,312.5 286.7,312.6 288.4,311.7 290.1,310.6 291.9,309.8 293.6,309.9 295.3,308.5 297.0,308.7 298.8,309.2 300.5,309.6 302.2,308.7 303.9,307.4 305.6,307.5 307.4,305.7 309.1,305.2 310.8,305.4 312.5,305.5 314.2,304.7 316.0,304.4 317.7,304.2 319.4,304.0 321.1,302.9 322.8,302.8 324.6,303.4 326.3,303.4 328.0,302.5 329.7,302.2 331.4,301.6 333.2,300.6 334.9,300.0 336.6,299.5 338.3,300.6 340.1,300.3 341.8,300.6 343.5,299.3 345.2,300.0 346.9,299.3 348.7,299.1 350.4,298.1 352.1,298.5 353.8,296.9 355.5,297.2 357.3,297.2 359.0,297.1 360.7,296.6 362.4,296.1 364.1,295.9 365.9,295.7 367.6,294.5 369.3,294.5 371.0,294.4 372.7,293.9 374.5,292.8 376.2,292.9 377.9,292.6 379.6,291.8 381.4,292.0 383.1,291.7 384.8,292.1 386.5,291.9 388.2,290.9 390.0,291.3 391.7,290.1 393.4,288.2 395.1,286.5 396.8,285.4 398.6,285.4 400.3,284.2 402.0,282.6 403.7,281.7 405.4,279.4 407.2,279.3 408.9,277.3 410.6,277.1 412.3,275.9 414.0,275.0 415.8,275.3 417.5,274.6 419.2,274.0 420.9,271.8 422.6,268.8 424.4,267.8 426.1,267.6 427.8,267.5 429.5,265.7 431.3,263.9 433.0,263.5 434.7,262.0 436.4,260.4 438.1,259.9 439.9,257.9 441.6,257.3 443.3,255.6 445.0,255.0 446.7,254.5 448.5,253.6 450.2,252.4 451.9,250.3 453.6,249.1 455.3,248.7 457.1,249.7 458.8,249.9 460.5,248.9 462.2,247.5 463.9,246.8 465.7,247.0 467.4,245.8 469.1,245.4 470.8,244.5 472.6,243.0 474.3,241.6 476.0,240.7 477.7,240.1 479.4,239.1 481.2,238.0 482.9,237.6 484.6,236.4 486.3,234.3 488.0,232.4 489.8,230.9 491.5,230.1 493.2,226.8 494.9,225.6 496.6,223.3 498.4,221.6 500.1,221.0 501.8,218.6 503.5,217.2 505.2,216.1 507.0,214.0 508.7,214.2 510.4,212.7 512.1,211.8 513.9,211.0 515.6,211.3 517.3,210.9 519.0,211.0 520.7,210.9 522.5,210.9 524.2,210.5 525.9,209.4 527.6,208.1 529.3,207.8 531.1,206.5 532.8,205.1 534.5,204.6 536.2,203.8 537.9,201.0 539.7,199.0 541.4,197.3 543.1,196.5 544.8,195.0 546.5,191.7 548.3,188.4 550.0,185.1 551.7,183.5 553.4,181.6 555.2,179.6 556.9,180.0 558.6,178.1 560.3,175.1 562.0,173.2 563.8,170.1 565.5,168.0 567.2,165.0 568.9,164.2 570.6,163.6 572.4,162.4 574.1,161.8 575.8,160.3 577.5,159.7 579.2,158.2 581.0,157.9 582.7,156.4 584.4,154.5 586.1,153.1 587.8,151.0 589.6,150.6 591.3,148.1 593.0,144.1 594.7,138.8 596.5,133.3 598.2,126.6 599.9,126.6 601.6,125.6 603.3,123.8 605.1,122.1 606.8,121.3 608.5,120.0 610.2,118.8 611.9,117.0 613.7,117.0 615.4,118.8 617.1,118.4 618.8,120.1 620.5,119.3 622.3,119.6 624.0,120.2 625.7,119.3 627.4,119.3 629.1,119.4 630.9,119.3 632.6,119.0 634.3,118.9 636.0,119.6 637.8,119.3 639.5,120.3 641.2,118.6 642.9,117.8 644.6,117.3 646.4,116.1 648.1,115.6 649.8,114.5 651.5,113.3 653.2,112.7 655.0,111.3 656.7,109.9 658.4,109.2 660.1,109.2 661.8,108.6 663.6,106.9 665.3,107.1 667.0,106.6 668.7,105.3 670.4,104.9 672.2,103.8 673.9,103.8 675.6,103.2 677.3,102.8 679.1,101.5 680.8,102.3 682.5,101.1 684.2,100.3 685.9,100.3 687.7,99.2 689.4,98.2 691.1,97.7 692.8,96.0 694.5,95.8 696.3,94.8 698.0,94.7 699.7,93.8 701.4,92.0 703.1,91.5 704.9,90.1 706.6,89.7 708.3,89.4 710.0,88.8 711.7,87.4 713.5,86.4 715.2,85.5 716.9,85.3 718.6,85.0 720.4,83.1 722.1,82.2 723.8,79.2 725.5,77.3 727.2,74.6 729.0,72.5 730.7,70.5 732.4,69.5 734.1,68.2 735.8,65.8 737.6,65.4 739.3,63.2" fill="none" stroke="#ff0000" stroke-width="1.9" stroke-linejoin="round"/>
<line x1="63.0" y1="387.4" x2="741.0" y2="387.4" stroke="#000000" stroke-width="1.3"/>
<text x="222.9" y="27.1" font-size="16" fill="#595959" textLength="118" lengthAdjust="spacingAndGlyphs">港股的资金供给</text>
<text x="336" y="27.1" font-size="16" fill="#595959">：</text>
<text x="359.4" y="27.1" font-size="16" fill="#595959" textLength="216.6" lengthAdjust="spacingAndGlyphs">回购、派息及南下内资净买入</text>
<line x1="61" y1="457.3" x2="84.5" y2="457.3" stroke="#aec8ec" stroke-width="1.15"/>
<text x="86.8" y="460.3" font-size="10.7" fill="#454545" textLength="86.8" lengthAdjust="spacingAndGlyphs">恒生指数（左轴）</text>
<line x1="403.2" y1="457" x2="426.8" y2="457" stroke="#2b5fc6" stroke-width="1.8"/>
<text x="429" y="460.2" font-size="10.7" fill="#454545" textLength="203" lengthAdjust="spacingAndGlyphs">2024年以来累计回购金额（亿港元，右轴）</text>
<line x1="61" y1="476.9" x2="84.5" y2="476.9" stroke="#50a02a" stroke-width="1.9"/>
<text x="86.9" y="480.3" font-size="10.7" fill="#454545" textLength="314" lengthAdjust="spacingAndGlyphs">2024年以来按自由流通股本计算的累计派息金额（亿港元，右轴）</text>
<line x1="403.2" y1="477" x2="426.8" y2="477" stroke="#ff0000" stroke-width="1.8"/>
<text x="429" y="480.2" font-size="10.7" fill="#454545" textLength="214.5" lengthAdjust="spacingAndGlyphs">2024年以来南下累计净买入（亿港元，右轴）</text>
<defs><filter id="sh" x="-30%" y="-30%" width="160%" height="160%"><feGaussianBlur in="SourceAlpha" stdDeviation="0.7" result="b"/><feOffset in="b" dx="-0.5" dy="0.7" result="o"/><feFlood flood-color="#7a7a7a" flood-opacity="0.8"/><feComposite in2="o" operator="in"/><feMerge><feMergeNode/><feMergeNode in="SourceGraphic"/></feMerge></filter></defs>
<g filter="url(#sh)">
<path d="M602.9 458.2 A12.3 12.3 0 1 1 592.6 459.8" fill="none" stroke="#f4f4f4" stroke-width="2.6"/>
<path d="M594.4 460.5 Q599.5 465 597.6 468.6 Q596 471.6 591.3 472.6 M606 464.5 L601.2 470.2 L604.3 475.4" fill="none" stroke="#f4f4f4" stroke-width="2.4"/>
<text x="668.2" y="477.2" font-size="21" font-weight="bold" fill="#e6e6e6">：</text>
<text x="689.6" y="477.2" font-size="21" font-weight="bold" fill="#e6e6e6">泓</text>
<text x="712.2" y="477.2" font-size="21" font-weight="bold" fill="#e6e6e6">湖</text>
<text x="734.8" y="477.2" font-size="21" font-weight="bold" fill="#e6e6e6">投</text>
<text x="756.4" y="477.2" font-size="21" font-weight="bold" fill="#e6e6e6">资</text>
<text transform="translate(615.8,477.4) scale(1.1,1)" font-size="21" font-weight="bold" fill="#e6e6e6">雪</text>
<text transform="translate(644.6,477.4) scale(1.1,1)" font-size="21" font-weight="bold" fill="#e6e6e6">球</text>
</g>
<rect x="0.75" y="0.7" width="798.4" height="493.1" fill="none" stroke="#2a5dc3" stroke-width="1.6"/>
<rect x="0" y="493" width="800" height="2" fill="#2a5dc3"/>
</svg></body></html>
